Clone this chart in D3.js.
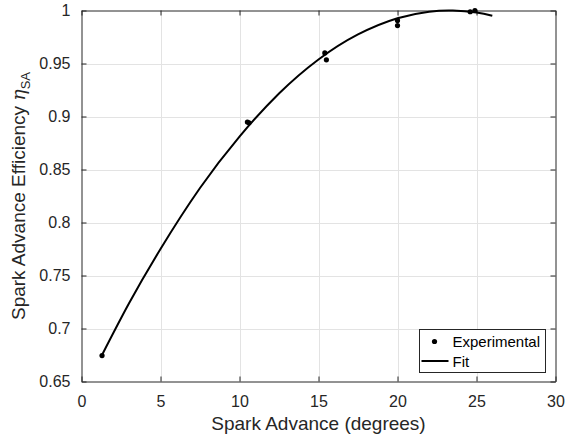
<!DOCTYPE html>
<html>
<head>
<meta charset="utf-8">
<script src="https://cdn.jsdelivr.net/npm/d3@7"></script>
<style>
  body { margin: 0; background: #fff; }
  svg { display: block; font-family: "Liberation Sans", Arial, Helvetica, sans-serif; }
</style>
</head>
<body>
<svg id="chart" width="573" height="439"></svg>
<script>
// experimental points (spark advance, efficiency)
var expX = [1.3, 10.5, 10.6, 15.4, 15.5, 20.0, 20.0, 24.6, 24.9];
var expY = [0.6745, 0.8948, 0.8940, 0.9600, 0.9535, 0.9906, 0.9858, 0.9988, 1.0000];

// fit curve
var fitX = [1.3, 3, 5, 7.5, 10, 12.5, 15, 17.5, 20, 22, 23.5, 25, 26];
var fitY = [0.675, 0.7235, 0.775, 0.8325, 0.881, 0.9217, 0.9538, 0.9774, 0.9927, 0.9989, 1.0, 0.9981, 0.9951];

var xTicks = [0, 5, 10, 15, 20, 25, 30];
var xTickLabels = ["0", "5", "10", "15", "20", "25", "30"];
var yTicks = [0.65, 0.7, 0.75, 0.8, 0.85, 0.9, 0.95, 1];
var yTickLabels = ["0.65", "0.7", "0.75", "0.8", "0.85", "0.9", "0.95", "1"];

(function () {
'use strict';

var svg = d3.select("#chart");
var pLeft = 81.5, pRight = 555.5, pTop = 10.5, pBottom = 381.5;
var axisColor = "#262626";

var x = d3.scaleLinear().domain([0, 30]).range([pLeft, pRight]);
var y = d3.scaleLinear().domain([0.65, 1]).range([pBottom, pTop]);

// grid
var grid = svg.append("g").attr("stroke", "#e3e3e3").attr("stroke-width", 1);
grid.selectAll("line.gx").data(xTicks.slice(1, -1)).enter().append("line")
    .attr("x1", function(d) { return Math.round(x(d)) + 0.5; })
    .attr("x2", function(d) { return Math.round(x(d)) + 0.5; })
    .attr("y1", pTop).attr("y2", pBottom);
grid.selectAll("line.gy").data(yTicks.slice(1, -1)).enter().append("line")
    .attr("y1", function(d) { return Math.round(y(d)) + 0.5; })
    .attr("y2", function(d) { return Math.round(y(d)) + 0.5; })
    .attr("x1", pLeft).attr("x2", pRight);

// axes with inward ticks, mirrored on top/right
function fmt(vals, labels) {
    return function(d) { return labels[vals.indexOf(d)]; };
}
var tickLen = 5;
var xAxis = svg.append("g")
    .attr("transform", "translate(0," + pBottom + ")")
    .call(d3.axisBottom(x).tickValues(xTicks).tickFormat(fmt(xTicks, xTickLabels)).tickSizeInner(-tickLen).tickSizeOuter(0).tickPadding(14));
var yAxis = svg.append("g")
    .attr("transform", "translate(" + pLeft + ",0)")
    .call(d3.axisLeft(y).tickValues(yTicks).tickFormat(fmt(yTicks, yTickLabels)).tickSizeInner(-tickLen).tickSizeOuter(0).tickPadding(11));
var xTop = svg.append("g")
    .attr("transform", "translate(0," + pTop + ")")
    .call(d3.axisTop(x).tickValues(xTicks).tickFormat("").tickSizeInner(-tickLen).tickSizeOuter(0));
var yRight = svg.append("g")
    .attr("transform", "translate(" + pRight + ",0)")
    .call(d3.axisRight(y).tickValues(yTicks).tickFormat("").tickSizeInner(-tickLen).tickSizeOuter(0));

[xAxis, yAxis, xTop, yRight].forEach(function(a) {
    a.selectAll("path").attr("stroke", axisColor);
    a.selectAll("line").attr("stroke", axisColor);
    a.selectAll("text").attr("fill", axisColor).style("font-size", "16px").attr("font-family", null);
});

// fit curve
var line = d3.line()
    .x(function(d) { return x(d[0]); })
    .y(function(d) { return y(d[1]); })
    .curve(d3.curveNatural);
svg.append("path")
    .datum(d3.zip(fitX, fitY))
    .attr("fill", "none")
    .attr("stroke", "#000")
    .attr("stroke-width", 2)
    .attr("d", line);

// experimental points
svg.selectAll("circle.exp").data(d3.zip(expX, expY)).enter().append("circle")
    .attr("class", "exp")
    .attr("cx", function(d) { return x(d[0]); })
    .attr("cy", function(d) { return y(d[1]); })
    .attr("r", 2.6)
    .attr("fill", "#000");

// axis labels
svg.append("text")
    .attr("x", (pLeft + pRight) / 2)
    .attr("y", 430)
    .attr("text-anchor", "middle")
    .attr("fill", axisColor)
    .style("font-size", "19px")
    .text("Spark Advance (degrees)");

var yl = svg.append("text")
    .attr("transform", "translate(25," + ((pTop + pBottom) / 2) + ") rotate(-90)")
    .attr("text-anchor", "middle")
    .attr("fill", axisColor)
    .style("font-size", "19px");
yl.append("tspan").text("Spark Advance Efficiency ");
yl.append("tspan").attr("font-style", "italic").attr("font-family", "'DejaVu Serif', serif").text("η");
yl.append("tspan").attr("dy", 5).style("font-size", "13px").text("SA");

// legend
var lg = svg.append("g");
lg.append("rect")
    .attr("x", 419.5).attr("y", 329.5)
    .attr("width", 126).attr("height", 43)
    .attr("fill", "#fff")
    .attr("stroke", axisColor)
    .attr("stroke-width", 1);
lg.append("circle").attr("cx", 434.5).attr("cy", 341.5).attr("r", 2.6).attr("fill", "#000");
lg.append("line").attr("x1", 421.5).attr("x2", 448.5).attr("y1", 361).attr("y2", 361)
    .attr("stroke", "#000").attr("stroke-width", 2);
lg.append("text").attr("x", 452.5).attr("y", 347).attr("fill", "#000").style("font-size", "15px").text("Experimental");
lg.append("text").attr("x", 452.5).attr("y", 367).attr("fill", "#000").style("font-size", "15px").text("Fit");
})();
</script>
</body>
</html>
